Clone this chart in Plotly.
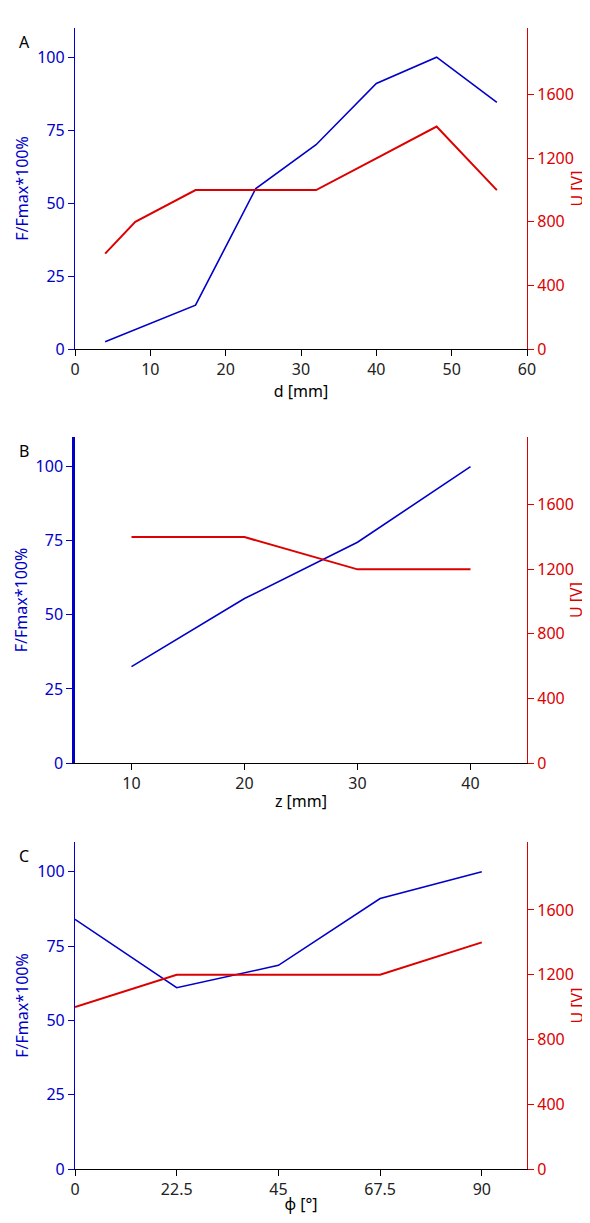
import plotly.graph_objects as go

# Panel A
d_mm = [4, 8, 16, 24, 32, 40, 48, 56]
force_a = [2.5, 6.7, 15, 55, 70, 91, 100, 84.5]
volt_a = [600, 800, 1000, 1000, 1000, 1200, 1400, 1000]

# Panel B
z_mm = [10, 20, 30, 40]
force_b = [32.5, 55.5, 74.5, 100]
volt_b = [1400, 1400, 1200, 1200]

# Panel C
phi_deg = [0, 22.5, 45, 67.5, 90]
force_c = [84, 61, 68.5, 91, 100]
volt_c = [1000, 1200, 1200, 1200, 1400]

left_ticks = [0, 25, 50, 75, 100]
right_ticks = [0, 400, 800, 1200, 1600]
x_ticks_a = [0, 10, 20, 30, 40, 50, 60]
x_ticks_b = [10, 20, 30, 40]
x_ticks_c = [0, 22.5, 45, 67.5, 90]
x_ticklabels_c = ["0", "22.5", "45", "67.5", "90"]

BLUE = "#0000c8"
RED = "#dc0000"
FONT = "Noto Sans"

# The page body adds an 8px margin, so the figure is sized to fill the rest.
W, H = 582, 1207
ML, MR, MT, MB = 67, 63, 20, 46
ph = H - MT - MB  # plot height in px
pw = W - ML - MR


def dom(top_px, bottom_px):
    # reference pixel rows (window coords) -> paper domain
    t = top_px - 8 - MT
    b = bottom_px - 8 - MT
    return [1 - b / ph, 1 - t / ph]


panels = [
    dict(x=d_mm, f=force_a, u=volt_a, xr=[0, 60], xt=x_ticks_a, xl=[str(v) for v in x_ticks_a],
         title="d [mm]", label="A", dom=dom(28, 349), lw=1.2),
    dict(x=z_mm, f=force_b, u=volt_b, xr=[5, 45], xt=x_ticks_b, xl=[str(v) for v in x_ticks_b],
         title="z [mm]", label="B", dom=dom(437, 763), lw=2.5),
    dict(x=phi_deg, f=force_c, u=volt_c, xr=[0, 100], xt=x_ticks_c, xl=x_ticklabels_c,
         title="φ [°]", label="C", dom=dom(842, 1169), lw=1.2),
]

fig = go.Figure()
layout = dict(
    width=W, height=H,
    margin=dict(l=ML, r=MR, t=MT, b=MB),
    paper_bgcolor="white", plot_bgcolor="white",
    showlegend=False,
    font=dict(family=FONT, size=16, color="black"),
)
annotations = []
for i, p in enumerate(panels):
    n = i + 1
    xa = "x" if n == 1 else f"x{n}"
    ya_left = "y" if n == 1 else f"y{2*n-1}"
    ya_right = f"y{2*n}"
    fig.add_trace(go.Scatter(x=p["x"], y=p["f"], mode="lines", line=dict(color=BLUE, width=1.6),
                             xaxis=xa, yaxis=ya_left))
    fig.add_trace(go.Scatter(x=p["x"], y=p["u"], mode="lines", line=dict(color=RED, width=2),
                             xaxis=xa, yaxis=ya_right))
    xkey = "xaxis" if n == 1 else f"xaxis{n}"
    lkey = "yaxis" if n == 1 else f"yaxis{2*n-1}"
    rkey = f"yaxis{2*n}"
    layout[xkey] = dict(
        domain=[0, 1], anchor=ya_left, range=p["xr"], automargin=False,
        tickmode="array", tickvals=p["xt"], ticktext=p["xl"],
        showgrid=False, zeroline=False, showline=True, linecolor="black", linewidth=1,
        ticks="outside", ticklen=6, tickcolor="black",
        title=dict(text=p["title"], font=dict(size=16), standoff=2),
        tickfont=dict(size=16, color="#222"),
    )
    layout[lkey] = dict(
        domain=p["dom"], anchor=xa, range=[0, 110], automargin=False,
        tickmode="array", tickvals=left_ticks,
        showgrid=False, zeroline=False, showline=True, linecolor=BLUE, linewidth=p["lw"],
        ticks="outside", ticklen=6, tickcolor=BLUE,
        tickfont=dict(size=16, color=BLUE),
        title=dict(text="F/Fmax*100%", font=dict(size=16, color=BLUE), standoff=4),
    )
    layout[rkey] = dict(
        domain=p["dom"], anchor=xa, overlaying=ya_left, side="right", range=[0, 2020],
        automargin=False,
        tickmode="array", tickvals=right_ticks,
        showgrid=False, zeroline=False, showline=True, linecolor=RED, linewidth=1.2,
        ticks="outside", ticklen=6, tickcolor=RED,
        tickfont=dict(size=16, color=RED),
    )
    annotations.append(dict(text="U [V]", xref="paper", yref="paper",
                            x=(576 - 8 - ML) / pw, y=(p["dom"][0] + p["dom"][1]) / 2,
                            xanchor="center", yanchor="middle", textangle=-90,
                            showarrow=False, font=dict(size=16, color=RED)))
    annotations.append(dict(text=p["label"], xref="paper", yref="paper",
                            x=-0.128, y=p["dom"][1] - 0.001, xanchor="left", yanchor="top",
                            showarrow=False, font=dict(size=16, color="black")))
layout["annotations"] = annotations
fig.update_layout(**layout)
fig.write_html("out.html")
